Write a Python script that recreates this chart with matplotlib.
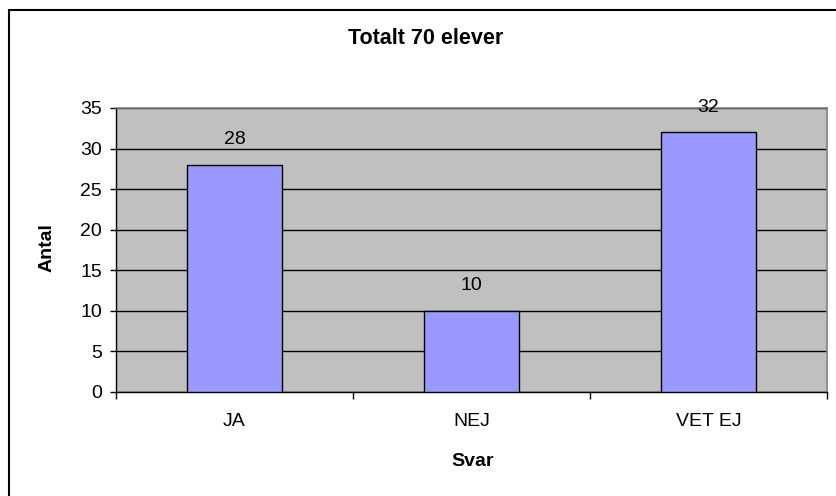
import matplotlib
matplotlib.use("Agg")
import matplotlib.pyplot as plt
from matplotlib.patches import Rectangle

categories = ["JA", "NEJ", "VET EJ"]
values = [28, 10, 32]
yticks = [0, 5, 10, 15, 20, 25, 30, 35]
title = "Totalt 70 elever"
xlabel = "Svar"
ylabel = "Antal"

W, H = 837, 496
plt.rcParams['font.family'] = ['Liberation Sans', 'DejaVu Sans']
fig = plt.figure(figsize=(W / 100, H / 100), dpi=100)

# chart-area border (extends past right/bottom edges)
fig.patches.append(Rectangle((9 / W, -0.2), 1.2, (H - 10) / H + 0.2,
                             transform=fig.transFigure, fill=False,
                             edgecolor='black', linewidth=1.5, zorder=0))

left, right, top, bottom = 116, 827, 108, 392
ax = fig.add_axes([left / W, 1 - bottom / H, (right - left) / W, (bottom - top) / H])
ax.set_facecolor('#C0C0C0')

x = list(range(len(categories)))
ax.bar(x, values, width=0.4, color='#9999FF', edgecolor='black', linewidth=1.0, zorder=3)
for xi, v in zip(x, values):
    ax.annotate(str(v), (xi, v), xytext=(0, 25), textcoords='offset pixels',
                ha='center', va='center', fontsize=14, zorder=4, annotation_clip=False)

ax.set_xlim(-0.5, len(categories) - 0.5)
ax.set_ylim(0, 35)
ax.set_yticks(yticks)
ax.set_yticklabels([str(t) for t in yticks], fontsize=14)
ax.yaxis.grid(True, color='black', linewidth=1.0, zorder=1)
ax.set_axisbelow(True)

ax.set_xticks(x)
ax.set_xticklabels(categories, fontsize=14)
ax.set_xticks([i - 0.5 for i in range(len(categories) + 1)], minor=True)
ax.tick_params(axis='x', which='major', length=0, pad=15)
ax.tick_params(axis='x', which='minor', length=5, width=1, color='black', direction='out')
ax.tick_params(axis='y', length=4, width=1, color='black', direction='out', pad=6)

for s in ['top', 'right']:
    ax.spines[s].set_color('#808080')
    ax.spines[s].set_linewidth(1.2)
for s in ['left', 'bottom']:
    ax.spines[s].set_color('black')
    ax.spines[s].set_linewidth(1.0)

fig.text(426 / W, 1 - 38 / H, title, ha='center', va='center', fontsize=15.5, fontweight='bold')
fig.text(473 / W, 1 - 462 / H, xlabel, ha='center', va='center', fontsize=14, fontweight='bold')
fig.text(47 / W, 1 - 248 / H, ylabel, ha='center', va='center', fontsize=14, fontweight='bold', rotation=90)

fig.savefig("out.png", dpi=100)
